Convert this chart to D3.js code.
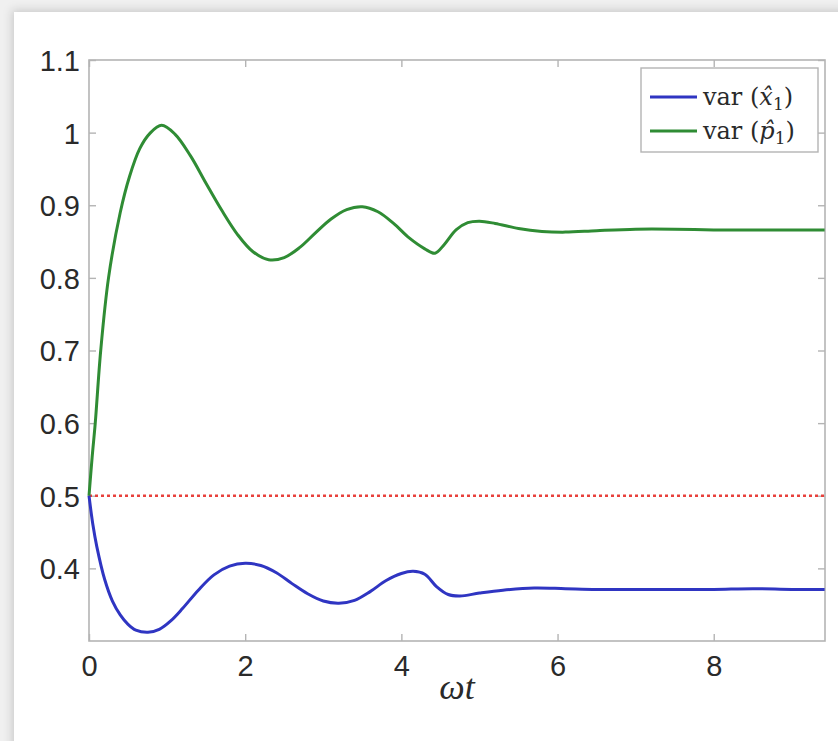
<!DOCTYPE html>
<html>
<head>
<meta charset="utf-8">
<script src="https://cdn.jsdelivr.net/npm/d3@7"></script>
<style>
  html, body { margin: 0; padding: 0; background: #eeeeee; }
  svg { display: block; }
</style>
</head>
<body>
<svg id="chart" width="838" height="741"></svg>
<script>
// ---- data ----
const xTicks = [0, 2, 4, 6, 8];
const yTicks = [0.4, 0.5, 0.6, 0.7, 0.8, 0.9, 1, 1.1];
const yTickLabels = ["0.4", "0.5", "0.6", "0.7", "0.8", "0.9", "1", "1.1"];

const tP = [0, 0.04, 0.08, 0.15, 0.25, 0.4, 0.52, 0.65, 0.78, 0.93, 1.1, 1.3, 1.5, 1.7, 1.9, 2.1, 2.3, 2.5, 2.7, 2.9, 3.1, 3.3, 3.5, 3.7, 3.9, 4.1, 4.3, 4.43, 4.55, 4.7, 4.85, 5.0, 5.2, 5.5, 5.8, 6.1, 6.5, 7.0, 7.5, 8.0, 8.5, 9.0, 9.42];
const varP = [0.5, 0.553, 0.6, 0.7, 0.8, 0.89, 0.94, 0.978, 0.999, 1.010, 0.998, 0.968, 0.930, 0.893, 0.860, 0.836, 0.825, 0.828, 0.842, 0.862, 0.881, 0.894, 0.898, 0.891, 0.875, 0.855, 0.840, 0.834, 0.846, 0.866, 0.876, 0.878, 0.875, 0.868, 0.864, 0.863, 0.865, 0.867, 0.867, 0.866, 0.866, 0.866, 0.866];

const tX = [0, 0.05, 0.1, 0.2, 0.3, 0.4, 0.5, 0.6, 0.755, 0.9, 1.05, 1.2, 1.4, 1.6, 1.8, 2.0, 2.2, 2.4, 2.6, 2.8, 3.0, 3.2, 3.4, 3.6, 3.8, 4.0, 4.15, 4.3, 4.45, 4.6, 4.75, 5.0, 5.3, 5.7, 6.1, 6.5, 7.0, 7.5, 8.0, 8.5, 9.0, 9.42];
const varX = [0.5, 0.46, 0.43, 0.385, 0.355, 0.336, 0.323, 0.315, 0.312, 0.316, 0.328, 0.345, 0.370, 0.391, 0.403, 0.407, 0.404, 0.394, 0.379, 0.365, 0.355, 0.352, 0.356, 0.368, 0.383, 0.393, 0.396, 0.392, 0.375, 0.364, 0.362, 0.366, 0.370, 0.373, 0.372, 0.371, 0.371, 0.371, 0.371, 0.372, 0.371, 0.371];

const refLevel = 0.5;
const xDomain = [0, 3 * Math.PI];
const yDomain = [0.3, 1.1];

// ---- layout ----
const svg = d3.select("#chart");
const W = 838, H = 741;
const m = { left: 89, top: 60, right: 825, bottom: 641 };

const defs = svg.append("defs");
const f = defs.append("filter").attr("id", "shadow")
  .attr("x", "-5%").attr("y", "-5%").attr("width", "110%").attr("height", "110%");
f.append("feDropShadow").attr("dx", -2).attr("dy", -2).attr("stdDeviation", 5)
  .attr("flood-color", "#000").attr("flood-opacity", 0.16);

svg.append("rect").attr("width", W).attr("height", H).attr("fill", "#f0f0f0");
svg.append("rect").attr("x", 14).attr("y", 12).attr("width", W + 40).attr("height", H + 40)
  .attr("fill", "#ffffff").attr("filter", "url(#shadow)");

const x = d3.scaleLinear().domain(xDomain).range([m.left, m.right]);
const y = d3.scaleLinear().domain(yDomain).range([m.bottom, m.top]);

const axisColor = "#b4b4b4";
const labelColor = "#2a2a2a";
const tickFont = "'Liberation Sans', Arial, sans-serif";

// box
svg.append("rect").attr("x", m.left).attr("y", m.top)
  .attr("width", m.right - m.left).attr("height", m.bottom - m.top)
  .attr("fill", "none").attr("stroke", axisColor).attr("stroke-width", 1.6);

// axes via d3 (ticks inward)
const gx = svg.append("g").attr("transform", `translate(0,${m.bottom})`)
  .call(d3.axisBottom(x).tickValues(xTicks).tickSize(-7).tickPadding(14).tickFormat(d3.format("d")));
const gxTop = svg.append("g").attr("transform", `translate(0,${m.top})`)
  .call(d3.axisTop(x).tickValues(xTicks).tickSize(-7).tickFormat(""));
const gy = svg.append("g").attr("transform", `translate(${m.left},0)`)
  .call(d3.axisLeft(y).tickValues(yTicks).tickSize(-7).tickPadding(9)
    .tickFormat((d, i) => yTickLabels[i]));
const gyR = svg.append("g").attr("transform", `translate(${m.right},0)`)
  .call(d3.axisRight(y).tickValues(yTicks).tickSize(-7).tickFormat(""));

[gx, gxTop, gy, gyR].forEach(g => {
  g.select(".domain").remove();
  g.selectAll(".tick line").attr("stroke", axisColor).attr("stroke-width", 1.4);
  g.selectAll("text").attr("fill", labelColor).attr("font-family", tickFont)
    .attr("font-size", 29);
});
gx.selectAll("text").attr("dy", "0.71em");
gy.selectAll("text").attr("dy", "0.36em");

// reference dotted line
svg.append("line")
  .attr("x1", x(xDomain[0])).attr("x2", x(xDomain[1]))
  .attr("y1", y(refLevel)).attr("y2", y(refLevel))
  .attr("stroke", "#e8413c").attr("stroke-width", 2.6).attr("stroke-dasharray", "3,3");

// curves
const line = d3.line().x(d => x(d[0])).y(d => y(d[1])).curve(d3.curveCatmullRom.alpha(0.5));
const blue = "#2f35c2", green = "#2f8c34";

svg.append("path").datum(tP.map((t, i) => [t, varP[i]]))
  .attr("d", line).attr("fill", "none").attr("stroke", green).attr("stroke-width", 3);
svg.append("path").datum(tX.map((t, i) => [t, varX[i]]))
  .attr("d", line).attr("fill", "none").attr("stroke", blue).attr("stroke-width", 3);

// x label
const serif = "'Liberation Serif', 'DejaVu Serif', serif";
svg.append("text").attr("x", (m.left + m.right) / 2).attr("y", 699)
  .attr("text-anchor", "middle").attr("font-family", serif).attr("font-style", "italic")
  .attr("font-size", 36).attr("fill", labelColor).text("ωt");

// legend
const lg = svg.append("g");
lg.append("rect").attr("x", 641).attr("y", 68).attr("width", 177).attr("height", 84)
  .attr("fill", "#fff").attr("stroke", axisColor).attr("stroke-width", 1.4);
const entries = [
  { color: blue, sym: "x", yy: 97 },
  { color: green, sym: "p", yy: 131 }
];
const legendFont = "'DejaVu Serif', 'Liberation Serif', serif";
entries.forEach(e => {
  lg.append("line").attr("x1", 650).attr("x2", 697).attr("y1", e.yy).attr("y2", e.yy)
    .attr("stroke", e.color).attr("stroke-width", 3);
  const t = lg.append("text").attr("x", 703).attr("y", e.yy + 8)
    .attr("font-family", legendFont).attr("font-size", 24).attr("fill", labelColor);
  t.append("tspan").text("var (");
  t.append("tspan").attr("font-style", "italic").text(e.sym + "\u0302");
  t.append("tspan").attr("font-size", 17).attr("dy", 5).text("1");
  t.append("tspan").attr("dy", -5).text(")");
});
</script>
</body>
</html>
